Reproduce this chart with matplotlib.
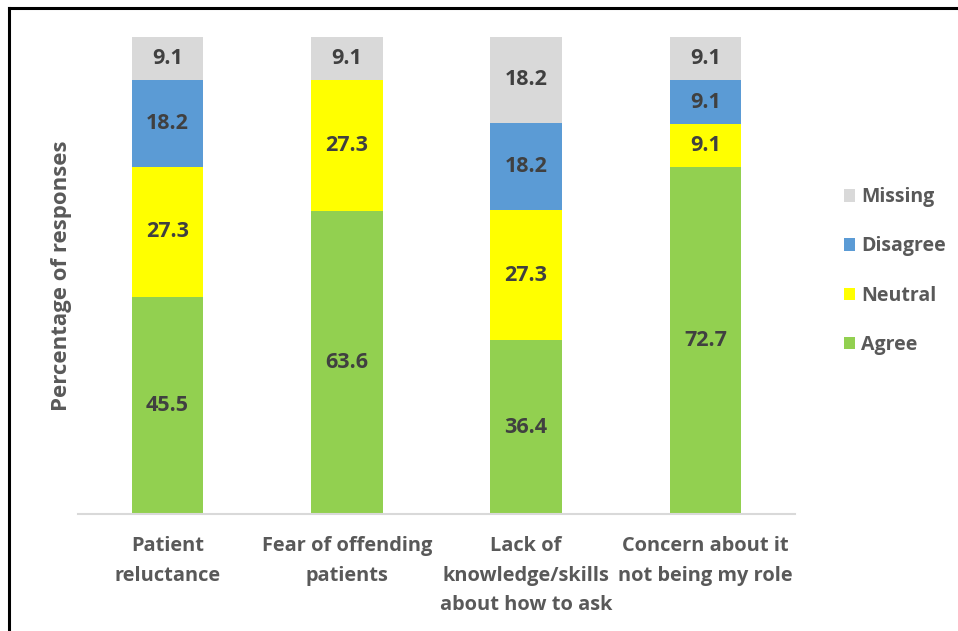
import matplotlib.pyplot as plt
from matplotlib.patches import Patch
from matplotlib.lines import Line2D
import numpy as np

plt.rcParams['font.family'] = ['Open Sans', 'DejaVu Sans']
plt.rcParams['font.weight'] = 'bold'

categories = ['Patient\nreluctance', 'Fear of offending\npatients',
              'Lack of\nknowledge/skills\nabout how to ask',
              'Concern about it\nnot being my role']
series_names = ['Agree', 'Neutral', 'Disagree', 'Missing']
agree = [45.5, 63.6, 36.4, 72.7]
neutral = [27.3, 27.3, 27.3, 9.1]
disagree = [18.2, 0.0, 18.2, 9.1]
missing = [9.1, 9.1, 18.2, 9.1]
colors = ['#92d050', '#ffff00', '#5b9bd5', '#d9d9d9']

fig = plt.figure(figsize=(9.58, 6.31), dpi=100)
ax = fig.add_axes([78 / 958, 1 - 514 / 631, (795 - 78) / 958, (514 - 37) / 631])

x = np.arange(len(categories))
bottom = np.zeros(len(categories))
handles = []
for name, vals, col in zip(series_names, [agree, neutral, disagree, missing], colors):
    vals = np.array(vals)
    ax.bar(x, vals, width=0.4, bottom=bottom, color=col, edgecolor='none')
    for xi, b, v in zip(x, bottom, vals):
        if v > 0:
            ax.text(xi, b + v / 2, f'{v:.1f}', ha='center', va='center',
                    fontsize=15.5, fontweight='bold', color='#404040')
    bottom += vals
    handles.append(Patch(facecolor=col, label=name))

ax.set_xlim(-0.5, 3.5)
ax.set_ylim(0, 100)
ax.set_yticks([])
ax.set_xticks(x)
ax.set_xticklabels(categories, fontsize=14.4, fontweight='bold', color='#595959', linespacing=1.62)
ax.tick_params(axis='x', length=0, pad=16)
for s in ['top', 'right', 'left']:
    ax.spines[s].set_visible(False)
ax.spines['bottom'].set_color('#d9d9d9')
ax.spines['bottom'].set_linewidth(1.5)
ax.set_ylabel('Percentage of responses', fontsize=16, fontweight='bold', color='#595959', labelpad=4)

fig.legend(handles=handles[::-1], loc='center left', bbox_to_anchor=(826 / 958, 1 - 271 / 631),
           frameon=False, fontsize=14, handlelength=0.6, handleheight=0.6,
           handletextpad=0.3, labelspacing=1.5, labelcolor='#595959')

# outer border (top and left only)
fig.add_artist(Line2D([8.5 / 958, 8.5 / 958], [0, 1 - 7.5 / 631], color='black', lw=2.2,
                      transform=fig.transFigure))
fig.add_artist(Line2D([8.5 / 958, 1], [1 - 7.5 / 631, 1 - 7.5 / 631], color='black', lw=2.2,
                      transform=fig.transFigure))

fig.savefig('out.png', dpi=100)
